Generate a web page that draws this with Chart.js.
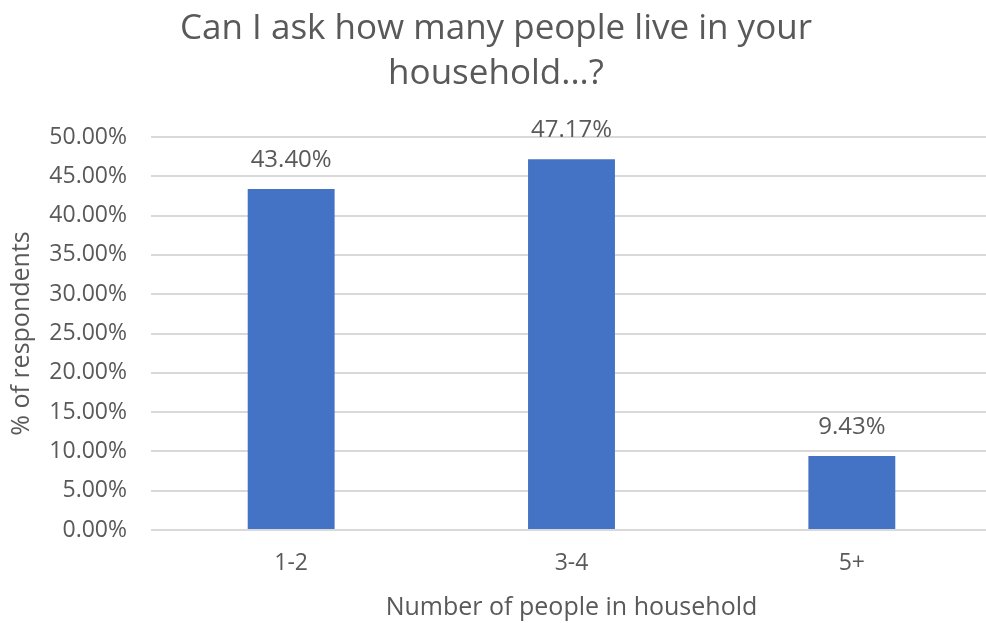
<!DOCTYPE html>
<html>
<head>
<meta charset="utf-8">
<script src="https://cdn.jsdelivr.net/npm/chart.js@4.4.1/dist/chart.umd.min.js"></script>
<style>
html,body{margin:0;padding:0;background:#fff;overflow:hidden;}
#wrap{position:relative;width:992px;height:623px;}
</style>
</head>
<body>
<div id="wrap"><canvas id="c"></canvas></div>
<script>
const categories = ["1-2", "3-4", "5+"];
const percentValues = [43.40, 47.17, 9.43];
const yTickStep = 5;
const yMax = 50;
const titleLines = ["Can I ask how many people live in your", "household...?"];
const xAxisTitle = "Number of people in household";
const yAxisTitle = "% of respondents";

const FONT = "'Open Sans', 'Noto Sans', sans-serif";
const TEXT = "#595959";

const labelPlugin = {
  id: 'barLabels',
  afterDatasetsDraw(chart) {
    const ctx = chart.ctx;
    const meta = chart.getDatasetMeta(0);
    ctx.save();
    ctx.font = "24px " + FONT;
    ctx.fillStyle = TEXT;
    ctx.textAlign = 'center';
    ctx.textBaseline = 'middle';
    meta.data.forEach((bar, i) => {
      ctx.fillText(percentValues[i].toFixed(2) + '%', bar.x, bar.y - 29);
    });
    ctx.restore();
  }
};

new Chart(document.getElementById('c'), {
  type: 'bar',
  data: {
    labels: categories,
    datasets: [{
      data: percentValues,
      backgroundColor: '#4472C4',
      categoryPercentage: 1,
      barPercentage: 0.31
    }]
  },
  options: {
    responsive: true,
    maintainAspectRatio: false,
    animation: false,
    layout: { padding: { top: 6, left: 0, right: 0, bottom: 0 } },
    plugins: {
      legend: { display: false },
      tooltip: { enabled: false },
      title: {
        display: true,
        text: titleLines,
        color: TEXT,
        font: { family: FONT, size: 35, weight: 'normal', lineHeight: 1.3 },
        padding: { top: 0, bottom: 40 }
      }
    },
    scales: {
      x: {
        grid: { display: false, drawTicks: false },
        border: { display: false },
        ticks: { color: TEXT, font: { family: FONT, size: 23 }, padding: 20 },
        title: { display: true, text: xAxisTitle, color: TEXT, font: { family: FONT, size: 25 }, padding: { top: 0, bottom: 0 } },
        afterFit(s) { s.height = 93; }
      },
      y: {
        min: 0, max: yMax,
        grid: { color: '#d9d9d9', lineWidth: 2, drawTicks: false },
        border: { display: false },
        ticks: {
          stepSize: yTickStep,
          color: TEXT,
          font: { family: FONT, size: 23 },
          padding: 24,
          callback: v => v.toFixed(2) + '%'
        },
        title: { display: true, text: yAxisTitle, color: TEXT, font: { family: FONT, size: 25 }, padding: { top: 7 } },
        afterFit(s) { s.width = 151; }
      }
    }
  },
  plugins: [labelPlugin]
});
</script>
</body>
</html>
